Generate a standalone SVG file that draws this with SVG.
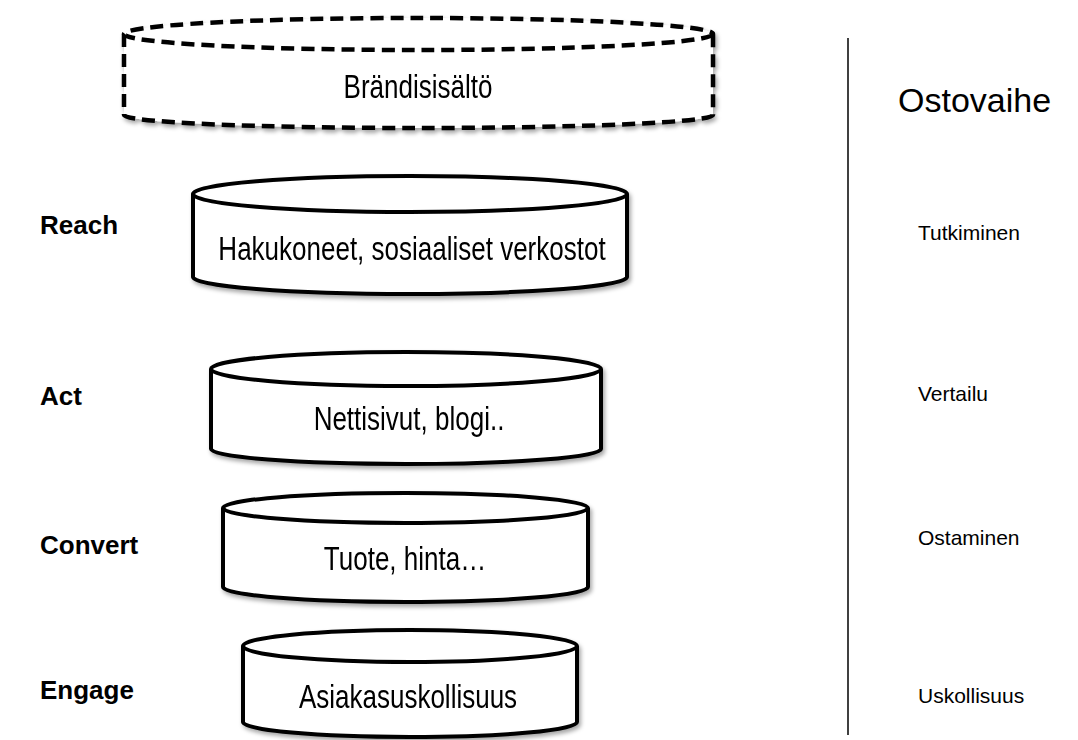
<svg xmlns="http://www.w3.org/2000/svg" width="1078" height="740" viewBox="0 0 1078 740">
<style>
.cyl{fill:#fff;stroke:#000;stroke-width:4;stroke-linejoin:round}
.dash{stroke-dasharray:13 7;stroke-width:4.5}
.t{font-family:"Liberation Sans",Arial,sans-serif;fill:#000}
.ct{font-size:26px;text-anchor:middle}
.lbl{font-size:26px;font-weight:bold}
.rl{font-size:21px}
</style>
<defs>
<filter id="sh" x="-5%" y="-20%" width="110%" height="150%">
<feDropShadow dx="2" dy="3" stdDeviation="2" flood-color="#000" flood-opacity="0.35"/>
</filter>
</defs>
<rect width="1078" height="740" fill="#fff"/>

<g id="cyl-brand" filter="url(#sh)">
<path class="cyl dash" d="M124,34 L124,115 A294.5,13 0 0 0 713,115 L713,34"/>
<ellipse class="cyl dash" cx="418.5" cy="34" rx="294.5" ry="16"/>
<text class="t ct" transform="translate(418,98) scale(1,1.28)">Brändisisältö</text>
</g>

<g id="cyl-reach" filter="url(#sh)">
<path class="cyl" d="M193,194 L193,277 A217,17 0 0 0 627,277 L627,194"/>
<ellipse class="cyl" cx="410" cy="194" rx="217" ry="18"/>
<text class="t ct" transform="translate(412,260) scale(1,1.28)">Hakukoneet, sosiaaliset verkostot</text>
</g>

<g id="cyl-act" filter="url(#sh)">
<path class="cyl" d="M211,369 L211,449 A195,15 0 0 0 601,449 L601,369"/>
<ellipse class="cyl" cx="406" cy="369" rx="195" ry="17"/>
<text class="t ct" transform="translate(409,430) scale(1,1.28)">Nettisivut, blogi..</text>
</g>

<g id="cyl-convert" filter="url(#sh)">
<path class="cyl" d="M223,508 L223,587 A182.5,15 0 0 0 588,587 L588,508"/>
<ellipse class="cyl" cx="405.5" cy="508" rx="182.5" ry="15"/>
<text class="t ct" transform="translate(405,570) scale(1,1.28)">Tuote, hinta…</text>
</g>

<g id="cyl-engage" filter="url(#sh)">
<path class="cyl" d="M243,646 L243,722 A167,15 0 0 0 577,722 L577,646"/>
<ellipse class="cyl" cx="410" cy="646" rx="167" ry="16"/>
<text class="t ct" transform="translate(408,708) scale(1,1.28)">Asiakasuskollisuus</text>
</g>

<g id="left-labels">
<text class="t lbl" x="40" y="234">Reach</text>
<text class="t lbl" x="40" y="405">Act</text>
<text class="t lbl" x="40" y="554">Convert</text>
<text class="t lbl" x="40" y="699">Engage</text>
</g>

<g id="connectors">
<line x1="848" y1="38" x2="848" y2="735" stroke="#000" stroke-width="1.5"/>
</g>

<g id="right-labels">
<text class="t" x="898" y="112" font-size="34">Ostovaihe</text>
<text class="t rl" x="918" y="240">Tutkiminen</text>
<text class="t rl" x="918" y="401">Vertailu</text>
<text class="t rl" x="918" y="545">Ostaminen</text>
<text class="t rl" x="918" y="703">Uskollisuus</text>
</g>
</svg>
